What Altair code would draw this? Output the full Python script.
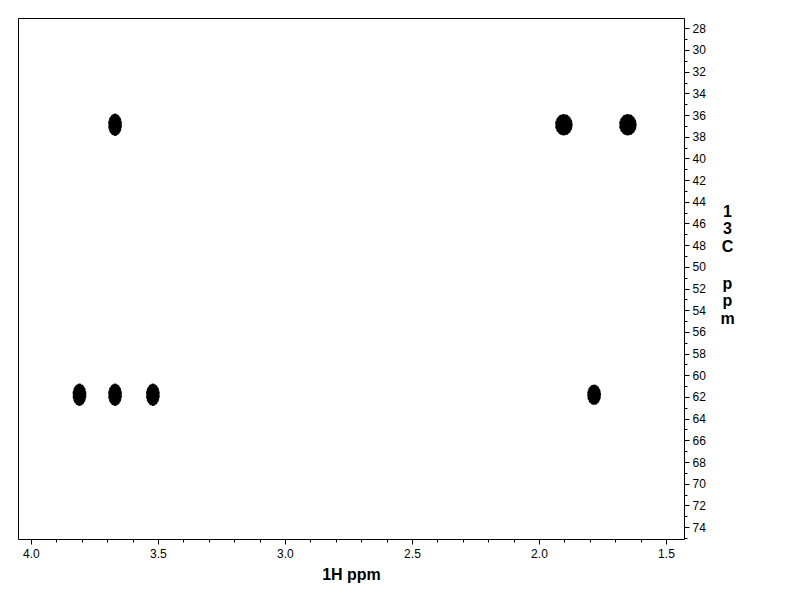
import altair as alt
import pandas as pd

# Cross-peak positions
h_ppm = [3.669, 1.902, 1.650, 3.809, 3.669, 3.520, 1.783]
c_ppm = [36.9, 36.9, 36.9, 61.8, 61.8, 61.8, 61.8]
peak_type = ["A", "B", "B", "A", "A", "A", "C"]

x_major = [4.0, 3.5, 3.0, 2.5, 2.0, 1.5]
x_minor = [round(1.5 + 0.1 * i, 1) for i in range(26)]
y_major = list(range(28, 75, 2))
y_minor = list(range(28, 76, 1))

df = pd.DataFrame({"h": h_ppm, "c": c_ppm, "t": peak_type})

def ellipse(rx):
    return f"M{-rx},0 A{rx},1 0 1,1 {rx},0 A{rx},1 0 1,1 {-rx},0 Z"

xscale = alt.Scale(domain=[1.429, 4.051], reverse=True, nice=False, zero=False)
yscale = alt.Scale(domain=[27.05, 75.1], reverse=True, nice=False, zero=False)

FONT = "Liberation Sans"

title_style = dict(
    titleFont=FONT, titleFontSize=16, titleFontWeight="bold", titleColor="black",
)
ytitle_style = dict(
    titleAngle=0, titleAlign="center", titleBaseline="top", titleLineHeight=17.5,
    titleX=43,
)

x_major_axis = alt.Axis(
    orient="bottom", values=x_major, format=".1f", tickSize=5, tickColor="black",
    tickWidth=1, labelFontSize=12, labelFont=FONT, labelColor="black",
    labelPadding=4, labelFlush=False, labelOverlap=False,
    domain=True, domainColor="black", domainWidth=1, grid=False,
    titlePadding=7, **title_style,
)
x_minor_axis = alt.Axis(
    orient="bottom", values=x_minor, labels=False, tickSize=3, tickColor="black",
    tickWidth=1, domain=False, grid=False,
)
x_top_axis = alt.Axis(
    orient="top", labels=False, ticks=False, domain=True, domainColor="black",
    domainWidth=1, grid=False,
)
y_major_axis = alt.Axis(
    orient="right", values=y_major, format="d", tickSize=5, tickColor="black",
    tickWidth=1, labelFontSize=12, labelFont=FONT, labelColor="black",
    labelPadding=3, labelFlush=False, labelOverlap=False,
    domain=True, domainColor="black", domainWidth=1, grid=False,
    titleY=185, **title_style, **ytitle_style,
)
y_minor_axis = alt.Axis(
    orient="right", values=y_minor, labels=False, tickSize=3, tickColor="black",
    tickWidth=1, domain=False, grid=False,
    titleY=257, **title_style, **ytitle_style,
)
y_left_axis = alt.Axis(
    orient="left", labels=False, ticks=False, domain=True, domainColor="black",
    domainWidth=1, grid=False,
)

shape_enc = alt.Shape("t:N", scale=alt.Scale(domain=["A", "B", "C"],
                      range=[ellipse(0.62), ellipse(0.82), ellipse(0.68)]), legend=None)

peaks = alt.Chart(df).mark_point(filled=True, opacity=1, color="black").encode(
    x=alt.X("h:Q", scale=xscale, axis=x_major_axis, title="1H ppm"),
    y=alt.Y("c:Q", scale=yscale, axis=y_major_axis, title=["1", "3", "C"]),
    shape=shape_enc,
    size=alt.Size("t:N", scale=alt.Scale(domain=["A", "B", "C"],
                  range=[500, 420, 560]), legend=None),
)

# inner contour gaps (white speckles inside the dense contour rings)
inner = alt.Chart(df).mark_point(filled=False, opacity=1, color="white",
                                 strokeWidth=0.8, strokeDash=[1, 3]).encode(
    x=alt.X("h:Q", scale=xscale, axis=None),
    y=alt.Y("c:Q", scale=yscale, axis=None),
    shape=shape_enc,
    size=alt.Size("t:N", scale=alt.Scale(domain=["A", "B", "C"],
                  range=[90, 70, 110]), legend=None),
)

minor = alt.Chart(df).mark_point(opacity=0).encode(
    x=alt.X("h:Q", scale=xscale, axis=x_minor_axis, title=""),
    y=alt.Y("c:Q", scale=yscale, axis=y_minor_axis, title=["p", "p", "m"]),
)

frame = alt.Chart(df).mark_point(opacity=0).encode(
    x=alt.X("h:Q", scale=xscale, axis=x_top_axis, title=""),
    y=alt.Y("c:Q", scale=yscale, axis=y_left_axis, title=""),
)

chart = alt.layer(frame, minor, peaks, inner).resolve_axis(
    x="independent", y="independent"
).properties(
    width=666, height=521,
    padding={"left": 10, "top": 10, "right": 5, "bottom": 5},
).configure_view(strokeWidth=0).configure(background="white")

chart.save("out.html", embed_options={"renderer": "svg", "actions": False})
